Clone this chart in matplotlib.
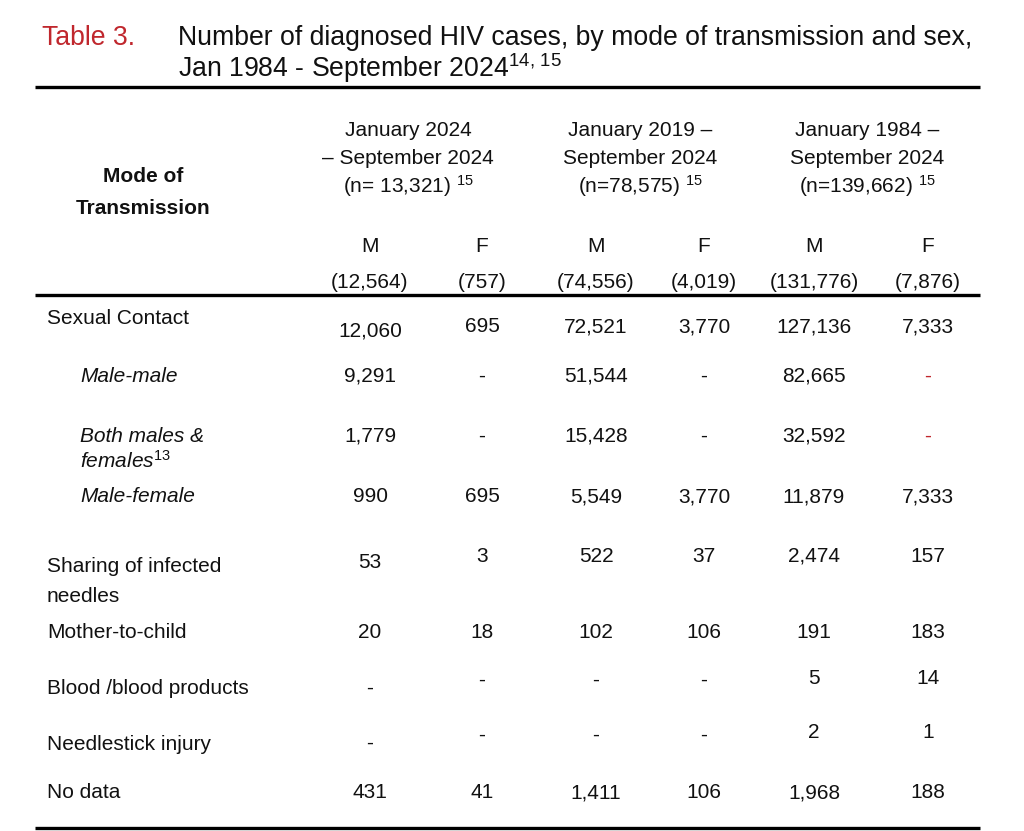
import matplotlib
matplotlib.use("Agg")
import matplotlib.pyplot as plt

plt.rcParams['font.family'] = ['Liberation Sans', 'DejaVu Sans']
plt.rcParams['mathtext.fontset'] = 'custom'
plt.rcParams['mathtext.rm'] = 'Liberation Sans'
plt.rcParams['mathtext.it'] = 'Liberation Sans:italic'

# table content
title_label = "Table 3."
title_lines = ["Number of diagnosed HIV cases, by mode of transmission and sex,",
               "Jan 1984 - September 2024$^{14,\\,15}$"]
periods = [["January 2024", "\u2013 September 2024", "(n= 13,321) $^{15}$"],
           ["January 2019 \u2013", "September 2024", "(n=78,575) $^{15}$"],
           ["January 1984 \u2013", "September 2024", "(n=139,662) $^{15}$"]]
sexes = ["M", "F", "M", "F", "M", "F"]
sex_totals = [12564, 757, 74556, 4019, 131776, 7876]

modes = [["Sexual Contact"], ["Male-male"], ["Both males &", "females$^{\\mathit{13}}$"],
         ["Male-female"], ["Sharing of infected", "needles"], ["Mother-to-child"],
         ["Blood /blood products"], ["Needlestick injury"], ["No data"]]
sub_rows = [False, True, True, True, False, False, False, False, False]
sexual_contact = [12060, 695, 72521, 3770, 127136, 7333]
male_male = [9291, None, 51544, None, 82665, None]
both_sexes = [1779, None, 15428, None, 32592, None]
male_female = [990, 695, 5549, 3770, 11879, 7333]
needles = [53, 3, 522, 37, 2474, 157]
mother_child = [20, 18, 102, 106, 191, 183]
blood = [None, None, None, None, 5, 14]
needlestick = [None, None, None, None, 2, 1]
no_data = [431, 41, 1411, 106, 1968, 188]
rows = [sexual_contact, male_male, both_sexes, male_female, needles,
        mother_child, blood, needlestick, no_data]
# dashes shown in red in the source
red_cells = [(1, 5), (2, 5)]

TXT = '#111111'
RED = '#c0272d'
FS = 15
VA = 'center_baseline'
DY = -2  # nudge text up to sit like the source

fig = plt.figure(figsize=(10.24, 8.31), dpi=100)
ax = fig.add_axes([0, 0, 1, 1])
ax.set_xlim(0, 1024)
ax.set_ylim(831, 0)
ax.axis('off')


def put(x, y, s, **kw):
    kw.setdefault('fontsize', FS)
    kw.setdefault('color', TXT)
    ax.text(x, y + DY, s, va=VA, **kw)


# title
put(42, 37, title_label, color=RED, fontsize=19.2)
put(178, 37, title_lines[0], fontsize=19.2)
put(178, 66, title_lines[1], fontsize=19.2)

# rules
for y in [87, 295, 828]:
    ax.plot([35, 980], [y, y], color='black', lw=2.4, solid_capstyle='butt')

# header
put(143, 176, "Mode of", fontweight='bold', ha='center')
put(143, 209, "Transmission", fontweight='bold', ha='center')

group_x = [408, 640, 867]
for gx, lines in zip(group_x, periods):
    for k, s in enumerate(lines):
        put(gx, 131 + 27 * k, s, ha='center')

col_x = [370, 482, 596, 704, 814, 928]
for cx, s, n in zip(col_x, sexes, sex_totals):
    put(cx, 247, s, ha='center')
    put(cx, 283, "({:,})".format(n), ha='center')

# body rows: first label line y, value y for each column
label_y = [318, 376, 436, 497, 566, 632, 689, 744, 793]
label_gap = [0, 0, 25, 0, 31, 0, 0, 0, 0]
value_y = [[331, 327, 327, 327, 327, 327],
           [376] * 6,
           [436] * 6,
           [497] * 6,
           [563, 556, 556, 556, 556, 556],
           [632] * 6,
           [688, 680, 680, 680, 678, 678],
           [743, 735, 735, 735, 733, 733],
           [793] * 6]

for i, (mode, vals) in enumerate(zip(modes, rows)):
    for k, line in enumerate(mode):
        y = label_y[i] + k * label_gap[i]
        if sub_rows[i]:
            put(80, y, line, style='italic')
        else:
            put(47, y, line)
    for j, v in enumerate(vals):
        s = "-" if v is None else "{:,}".format(v)
        c = RED if (i, j) in red_cells else TXT
        put(col_x[j], value_y[i][j], s, ha='center', color=c)

fig.savefig("out.png", dpi=100, facecolor='white')
